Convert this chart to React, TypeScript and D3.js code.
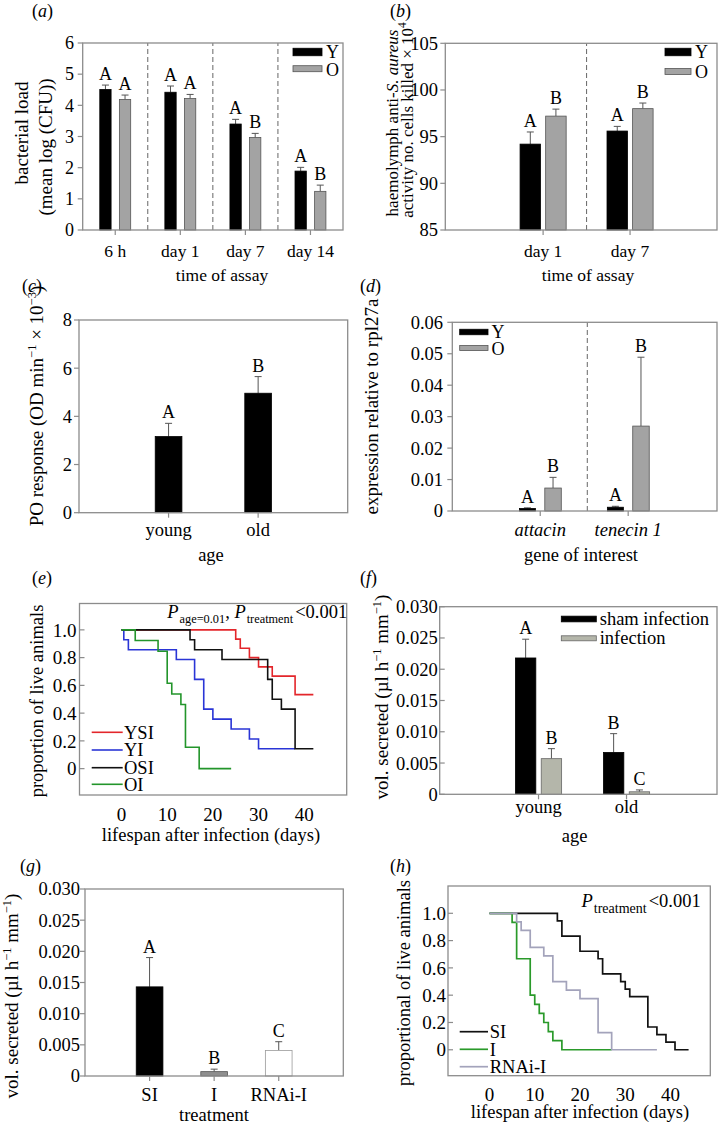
import React from "react";
import * as d3 from "d3";

const FONT = "'Liberation Serif', 'Times New Roman', Times, serif";
const FRAME = "#8c8c8c";
const ERR = "#555";
const OLD_GREY = "#a3a3a3";

// ---------- (a) bacterial load
const aCategories = ["6 h", "day 1", "day 7", "day 14"];
const aYoung = [4.51, 4.42, 3.4, 1.89];
const aYoungErr = [0.14, 0.2, 0.15, 0.12];
const aOld = [4.19, 4.22, 2.97, 1.24];
const aOldErr = [0.14, 0.13, 0.13, 0.2];
const aYoungLetters = ["A", "A", "A", "A"];
const aOldLetters = ["A", "A", "B", "B"];
const aYTicks = [0, 1, 2, 3, 4, 5, 6];

// ---------- (b) haemolymph activity
const bCategories = ["day 1", "day 7"];
const bYoung = [94.2, 95.6];
const bYoungErr = [1.3, 0.5];
const bOld = [97.2, 98.0];
const bOldErr = [0.75, 0.6];
const bYoungLetters = ["A", "A"];
const bOldLetters = ["B", "B"];
const bYTicks = [85, 90, 95, 100, 105];

// ---------- (c) PO response
const cCategories = ["young", "old"];
const cValues = [3.16, 4.96];
const cErr = [0.55, 0.69];
const cLetters = ["A", "B"];
const cYTicks = [0, 2, 4, 6, 8];

// ---------- (d) expression
const dCategories = ["attacin", "tenecin 1"];
const dYoung = [0.0008, 0.0012];
const dYoungErr = [0.0002, 0.0003];
const dOld = [0.0073, 0.027];
const dOldErr = [0.0034, 0.0219];
const dYoungLetters = ["A", "A"];
const dOldLetters = ["B", "B"];
const dYTicks = [0, 0.01, 0.02, 0.03, 0.04, 0.05, 0.06];

// ---------- (e) survival by age
const eYsiDays = [0, 25, 26, 28, 30, 33, 38, 42];
const eYsiSurv = [1, 0.933, 0.867, 0.8, 0.733, 0.667, 0.533, 0.533];
const eYiDays = [0, 0.5, 1.5, 12, 16, 18, 20, 24, 28, 30, 38];
const eYiSurv = [1, 0.929, 0.857, 0.786, 0.643, 0.429, 0.357, 0.286, 0.214, 0.143, 0.143];
const eOsiDays = [0, 15, 16, 22, 32, 33, 35, 38, 42];
const eOsiSurv = [1, 0.929, 0.857, 0.786, 0.643, 0.5, 0.429, 0.143, 0.143];
const eOiDays = [0, 3, 8, 10, 11, 13, 14, 17, 24];
const eOiSurv = [1, 0.923, 0.846, 0.615, 0.538, 0.462, 0.154, 0, 0];
const eLabels = ["YSI", "YI", "OSI", "OI"];
const eColors = ["#e3262b", "#2a35d6", "#111111", "#23952b"];
const survTicks = [0, 0.2, 0.4, 0.6, 0.8, 1.0];
const dayTicks = [0, 10, 20, 30, 40];

// ---------- (f) vol secreted by age
const fCategories = ["young", "old"];
const fSham = [0.0218, 0.0067];
const fShamErr = [0.003, 0.003];
const fInf = [0.0057, 0.0004];
const fInfErr = [0.0016, 0.0003];
const fShamLetters = ["A", "B"];
const fInfLetters = ["B", "C"];
const volTicks = [0, 0.005, 0.01, 0.015, 0.02, 0.025, 0.03];

// ---------- (g) vol secreted by treatment
const gCategories = ["SI", "I", "RNAi-I"];
const gValues = [0.0143, 0.0007, 0.0041];
const gErr = [0.0047, 0.0004, 0.0014];
const gLetters = ["A", "B", "C"];

// ---------- (h) survival by treatment
const hSiDays = [0, 15, 16, 20, 24, 25, 29, 30, 31, 35, 37, 39, 41, 44];
const hSiSurv = [1, 0.944, 0.833, 0.722, 0.667, 0.556, 0.5, 0.444, 0.389, 0.167, 0.111, 0.056, 0, 0];
const hIDays = [0, 5, 6, 9, 10, 11, 12, 13, 14, 16, 27];
const hISurv = [1, 0.933, 0.667, 0.4, 0.333, 0.267, 0.2, 0.133, 0.067, 0, 0];
const hRnaiDays = [0, 6, 7, 9, 12, 14, 17, 20, 24, 27, 37];
const hRnaiSurv = [1, 0.9375, 0.875, 0.75, 0.6875, 0.5, 0.4375, 0.375, 0.125, 0, 0];
const hLabels = ["SI", "I", "RNAi-I"];
const hColors = ["#111111", "#2a9a2a", "#a3a3bb"];

type Lin = d3.ScaleLinear<number, number>;

const fmtInt = d3.format("d");
const fmt2 = (t: number) => (t === 0 ? "0" : d3.format(".2f")(t));
const fmt3 = (t: number) => (t === 0 ? "0" : d3.format(".3f")(t));
const fmt1 = (t: number) => (t === 0 ? "0" : d3.format(".1f")(t));

function Frame({ x, y }: { x: Lin; y: Lin }) {
  const [x0, x1] = x.range();
  const [y0, y1] = y.range();
  return (
    <rect x={x0} y={y1} width={x1 - x0} height={y0 - y1} fill="none" stroke={FRAME} strokeWidth={1.3} />
  );
}

function YAxis({ x, y, ticks, fmt, size, inward, gap }: any) {
  const ax = x.range()[0];
  const dir = inward ? 1 : -1;
  return (
    <g>
      {ticks.map((t: number, i: number) => (
        <g key={i}>
          <line x1={ax} x2={ax + dir * 5} y1={y(t)} y2={y(t)} stroke={FRAME} strokeWidth={1.2} />
          <text x={ax - gap} y={y(t)} dy="0.35em" textAnchor="end" fontSize={size}>
            {fmt(t)}
          </text>
        </g>
      ))}
    </g>
  );
}

function XCats({ x, y, positions, labels, base, size, italic }: any) {
  const by = y.range()[0];
  return (
    <g>
      {positions.map((p: number, i: number) => (
        <g key={i}>
          <line x1={x(p)} x2={x(p)} y1={by} y2={by + 5} stroke={FRAME} strokeWidth={1.2} />
          <text x={x(p)} y={base} textAnchor="middle" fontSize={size} fontStyle={italic ? "italic" : "normal"}>
            {labels[i]}
          </text>
        </g>
      ))}
    </g>
  );
}

function BarMark({ cx, w, y, v, err, fill, stroke, letter, base, lsize }: any) {
  const y0 = y(base);
  const yt = y(v);
  const ye = y(v + err);
  return (
    <g>
      <line x1={cx} x2={cx} y1={yt} y2={ye} stroke={ERR} strokeWidth={1} />
      <line x1={cx - 3.5} x2={cx + 3.5} y1={ye} y2={ye} stroke={ERR} strokeWidth={1} />
      <rect x={cx - w / 2} y={yt} width={w} height={Math.max(0, y0 - yt)} fill={fill} stroke={stroke} strokeWidth={0.8} />
      {letter ? (
        <text x={cx} y={ye - 5} textAnchor="middle" fontSize={lsize || 18}>
          {letter}
        </text>
      ) : null}
    </g>
  );
}

function Swatch({ x, y, w, h, fill, stroke, label, tx, ty, size }: any) {
  return (
    <g>
      <rect x={x} y={y - h / 2} width={w} height={h} fill={fill} stroke={stroke} strokeWidth={0.8} />
      <text x={tx} y={ty} fontSize={size}>
        {label}
      </text>
    </g>
  );
}

function PanelLabel({ x, y, letter }: any) {
  return (
    <text x={x} y={y} fontSize={18}>
      (<tspan fontStyle="italic">{letter}</tspan>)
    </text>
  );
}

function VTitle({ x, y, size, children }: any) {
  return (
    <text transform={`translate(${x},${y}) rotate(-90)`} textAnchor="middle" fontSize={size}>
      {children}
    </text>
  );
}

function Dashed({ x, y, at }: any) {
  const [y0, y1] = y.range();
  return <line x1={x(at)} x2={x(at)} y1={y0} y2={y1} stroke="#666" strokeWidth={1} strokeDasharray="5,3" />;
}

const stepLine = (x: Lin, y: Lin, days: number[], surv: number[]) =>
  d3
    .line<number>()
    .x((_, i) => x(days[i]))
    .y((_, i) => y(surv[i]))
    .curve(d3.curveStepAfter)(days) || "";

export default function App() {
  // ----- scales
  const aX = d3.scaleLinear().domain([0, aCategories.length]).range([82.7, 343]);
  const aY = d3.scaleLinear().domain([0, 6]).range([230, 43]);
  const bX = d3.scaleLinear().domain([-1.125, 2.0]).range([445.3, 717]);
  const bY = d3.scaleLinear().domain([85, 105]).range([230, 43.3]);
  const cX = d3.scaleLinear().domain([0, 3]).range([79, 347.7]);
  const cY = d3.scaleLinear().domain([0, 8]).range([512.7, 320]);
  const dX = d3.scaleLinear().domain([-1, 2.01]).range([452.3, 717]);
  const dY = d3.scaleLinear().domain([0, 0.06]).range([511, 322.3]);
  const eX = d3.scaleLinear().domain([-9.2, 49.3]).range([79.5, 346.7]);
  const eY = d3.scaleLinear().domain([-0.19, 1.19]).range([795, 603.5]);
  const fX = d3.scaleLinear().domain([-1.123, 2.028]).range([439.7, 717]);
  const fY = d3.scaleLinear().domain([0, 0.03]).range([794.3, 606.7]);
  const gX = d3.scaleLinear().domain([0, 4]).range([85, 343.3]);
  const gY = d3.scaleLinear().domain([0, 0.03]).range([1076, 889]);
  const hX = d3.scaleLinear().domain([-9.17, 48.8]).range([448, 710.3]);
  const hY = d3.scaleLinear().domain([-0.19, 1.2]).range([1075.7, 886]);

  const eSeries = [
    [eYsiDays, eYsiSurv],
    [eYiDays, eYiSurv],
    [eOsiDays, eOsiSurv],
    [eOiDays, eOiSurv],
  ];
  const hSeries = [
    [hSiDays, hSiSurv],
    [hIDays, hISurv],
    [hRnaiDays, hRnaiSurv],
  ];
  const hOrder = [0, 1, 2];

  return (
    <svg
      width={718}
      height={1124}
      style={{ position: "absolute", left: 0, top: 0, display: "block" }}
      fontFamily={FONT}
      fill="#000"
    >
      <rect x={0} y={0} width={718} height={1124} fill="#fff" />

      {/* ================= (a) ================= */}
      <PanelLabel x={32} y={16.5} letter="a" />
      {[1, 2, 3].map((s) => (
        <Dashed key={s} x={aX} y={aY} at={s} />
      ))}
      {aCategories.map((c, i) => (
        <g key={c}>
          <BarMark cx={aX(i + 0.5) - 9.8} w={11.3} y={aY} base={0} v={aYoung[i]} err={aYoungErr[i]} fill="#000" stroke="#000" letter={aYoungLetters[i]} />
          <BarMark cx={aX(i + 0.5) + 9.8} w={11.3} y={aY} base={0} v={aOld[i]} err={aOldErr[i]} fill={OLD_GREY} stroke="#555" letter={aOldLetters[i]} />
        </g>
      ))}
      <Frame x={aX} y={aY} />
      <YAxis x={aX} y={aY} ticks={aYTicks} fmt={fmtInt} size={18} gap={8.7} />
      <XCats x={aX} y={aY} positions={aCategories.map((_, i) => i + 0.5)} labels={aCategories} base={256.5} size={17.5} />
      <text x={222} y={281} textAnchor="middle" fontSize={17.5}>time of assay</text>
      <VTitle x={28.3} y={133} size={19}>bacterial load</VTitle>
      <VTitle x={51.5} y={147} size={19}>(mean log (CFU))</VTitle>
      <Swatch x={293} y={52} w={29} h={7.5} fill="#000" stroke="#000" label="Y" tx={326} ty={58.3} size={18} />
      <Swatch x={293} y={68.7} w={29} h={6} fill={OLD_GREY} stroke="#555" label="O" tx={326} ty={76} size={18} />

      {/* ================= (b) ================= */}
      <PanelLabel x={390} y={16.5} letter="b" />
      <Dashed x={bX} y={bY} at={0.5} />
      {bCategories.map((c, i) => (
        <g key={c}>
          <BarMark cx={bX(i) - 12.8} w={20.5} y={bY} base={85} v={bYoung[i]} err={bYoungErr[i]} fill="#000" stroke="#000" letter={bYoungLetters[i]} />
          <BarMark cx={bX(i) + 12.8} w={20.5} y={bY} base={85} v={bOld[i]} err={bOldErr[i]} fill={OLD_GREY} stroke="#555" letter={bOldLetters[i]} />
        </g>
      ))}
      <Frame x={bX} y={bY} />
      <YAxis x={bX} y={bY} ticks={bYTicks} fmt={fmtInt} size={18.5} gap={7.3} />
      <XCats x={bX} y={bY} positions={[0, 1]} labels={bCategories} base={256.5} size={17.5} />
      <text x={588} y={281} textAnchor="middle" fontSize={17.5}>time of assay</text>
      <VTitle x={398} y={123} size={17}>
        haemolymph anti-<tspan fontStyle="italic">S. aureus</tspan>
      </VTitle>
      <VTitle x={413} y={120} size={17}>
        activity no. cells killed × 10<tspan fontSize={11.5} dy={-7}>4</tspan>
      </VTitle>
      <Swatch x={665} y={52} w={26} h={7.5} fill="#000" stroke="#000" label="Y" tx={695} ty={58.3} size={18} />
      <Swatch x={665} y={71.5} w={26} h={6} fill={OLD_GREY} stroke="#555" label="O" tx={695} ty={77.5} size={18} />

      {/* ================= (c) ================= */}
      <PanelLabel x={22} y={291.5} letter="c" />
      {cCategories.map((c, i) => (
        <BarMark key={c} cx={cX(i + 1)} w={26.7} y={cY} base={0} v={cValues[i]} err={cErr[i]} fill="#000" stroke="#000" letter={cLetters[i]} />
      ))}
      <Frame x={cX} y={cY} />
      <YAxis x={cX} y={cY} ticks={cYTicks} fmt={fmtInt} size={18.5} gap={7} />
      <XCats x={cX} y={cY} positions={[1, 2]} labels={cCategories} base={536} size={18.5} />
      <text x={211} y={561} textAnchor="middle" fontSize={18.5}>age</text>
      <VTitle x={43} y={406} size={19}>
        PO response (OD min<tspan fontSize={12.5} dy={-7}>−1</tspan>
        <tspan dy={7}> × 10</tspan>
        <tspan fontSize={12.5} dy={-7}>−3</tspan>
        <tspan dy={7}>)</tspan>
      </VTitle>

      {/* ================= (d) ================= */}
      <PanelLabel x={360} y={291.5} letter="d" />
      <Dashed x={dX} y={dY} at={0.535} />
      {dCategories.map((c, i) => (
        <g key={c}>
          <BarMark cx={dX(i) - 12.8} w={16} y={dY} base={0} v={dYoung[i]} err={dYoungErr[i]} fill="#000" stroke="#000" letter={dYoungLetters[i]} />
          <BarMark cx={dX(i) + 12.8} w={16.5} y={dY} base={0} v={dOld[i]} err={dOldErr[i]} fill={OLD_GREY} stroke="#555" letter={dOldLetters[i]} />
        </g>
      ))}
      <Frame x={dX} y={dY} />
      <YAxis x={dX} y={dY} ticks={dYTicks} fmt={fmt2} size={18.5} gap={9.3} />
      <XCats x={dX} y={dY} positions={[0, 1]} labels={dCategories} base={536} size={18.5} italic />
      <text x={581} y={561} textAnchor="middle" fontSize={18.5}>gene of interest</text>
      <VTitle x={377.5} y={406.5} size={19}>expression relative to rpl27a</VTitle>
      <Swatch x={459.7} y={332} w={28.3} h={5.5} fill="#000" stroke="#000" label="Y" tx={491.5} ty={337.5} size={18} />
      <Swatch x={459.7} y={348} w={28.3} h={5} fill={OLD_GREY} stroke="#555" label="O" tx={491.5} ty={355} size={18} />

      {/* ================= (e) ================= */}
      <PanelLabel x={32} y={583.5} letter="e" />
      <Frame x={eX} y={eY} />
      {eSeries.map(([days, surv], k) => (
        <path key={k} d={stepLine(eX, eY, days, surv)} fill="none" stroke={eColors[k]} strokeWidth={1.6} />
      ))}
      <YAxis x={eX} y={eY} ticks={survTicks} fmt={fmt1} size={19} gap={3} inward />
      {dayTicks.map((t) => (
        <text key={t} x={eX(t)} y={821} textAnchor="middle" fontSize={19}>
          {t}
        </text>
      ))}
      <text x={211} y={841} textAnchor="middle" fontSize={18.5}>lifespan after infection (days)</text>
      <VTitle x={43} y={701} size={18.5}>proportion of live animals</VTitle>
      <text x={167.3} y={618.3} fontSize={18.5}>
        <tspan fontStyle="italic">P</tspan>
        <tspan fontSize={12.3} dy={5} dx={1}>age=0.01</tspan>
        <tspan dy={-5}>, </tspan>
        <tspan fontStyle="italic">P</tspan>
        <tspan fontSize={12.3} dy={5} dx={1}>treatment</tspan>
        <tspan dy={-5} dx={2}>&lt;0.001</tspan>
      </text>
      {eLabels.map((l, k) => {
        const ly = [732.3, 750, 767.7, 784.3][k];
        return (
          <g key={l}>
            <line x1={91.7} x2={122.7} y1={ly} y2={ly} stroke={eColors[k]} strokeWidth={1.6} />
            <text x={124} y={ly + 6.3} fontSize={18.5}>{l}</text>
          </g>
        );
      })}

      {/* ================= (f) ================= */}
      <PanelLabel x={360} y={583.5} letter="f" />
      {fCategories.map((c, i) => (
        <g key={c}>
          <BarMark cx={fX(i) - 12.9} w={20.4} y={fY} base={0} v={fSham[i]} err={fShamErr[i]} fill="#000" stroke="#000" letter={fShamLetters[i]} />
          <BarMark cx={fX(i) + 12.9} w={20.4} y={fY} base={0} v={fInf[i]} err={fInfErr[i]} fill="#b4b6aa" stroke="#666" letter={fInfLetters[i]} />
        </g>
      ))}
      <Frame x={fX} y={fY} />
      <YAxis x={fX} y={fY} ticks={volTicks} fmt={fmt3} size={18.5} gap={2} inward />
      <XCats x={fX} y={fY} positions={[0, 1]} labels={fCategories} base={813} size={18.5} />
      <text x={574.7} y={842} textAnchor="middle" fontSize={18.5}>age</text>
      <VTitle x={387.5} y={697} size={19}>
        vol. secreted (µl h<tspan fontSize={12.5} dy={-7}>−1</tspan>
        <tspan dy={7}> mm</tspan>
        <tspan fontSize={12.5} dy={-7}>−1</tspan>
        <tspan dy={7}>)</tspan>
      </VTitle>
      <Swatch x={561.3} y={619} w={35} h={5.7} fill="#000" stroke="#000" label="sham infection" tx={599.7} ty={624.5} size={18.5} />
      <Swatch x={561.3} y={638.3} w={35} h={5} fill="#b4b6aa" stroke="#666" label="infection" tx={599.7} ty={644} size={18.5} />

      {/* ================= (g) ================= */}
      <PanelLabel x={20} y={871.5} letter="g" />
      {gCategories.map((c, i) => (
        <BarMark
          key={c}
          cx={gX(i + 1)}
          w={26.7}
          y={gY}
          base={0}
          v={gValues[i]}
          err={gErr[i]}
          fill={["#000", "#8f8f8f", "#fff"][i]}
          stroke={["#000", "#555", "#9a9a9a"][i]}
          letter={gLetters[i]}
        />
      ))}
      <Frame x={gX} y={gY} />
      <YAxis x={gX} y={gY} ticks={volTicks} fmt={fmt3} size={18.5} gap={5} />
      <XCats x={gX} y={gY} positions={[1, 2, 3]} labels={gCategories} base={1101} size={18.5} />
      <text x={214} y={1120.5} textAnchor="middle" fontSize={18.5}>treatment</text>
      <VTitle x={18} y={996} size={19}>
        vol. secreted (µl h<tspan fontSize={12.5} dy={-7}>−1</tspan>
        <tspan dy={7}> mm</tspan>
        <tspan fontSize={12.5} dy={-7}>−1</tspan>
        <tspan dy={7}>)</tspan>
      </VTitle>

      {/* ================= (h) ================= */}
      <PanelLabel x={390} y={871.5} letter="h" />
      <Frame x={hX} y={hY} />
      {hOrder.map((k) => (
        <path key={k} d={stepLine(hX, hY, hSeries[k][0], hSeries[k][1])} fill="none" stroke={hColors[k]} strokeWidth={1.7} />
      ))}
      <YAxis x={hX} y={hY} ticks={survTicks} fmt={fmt1} size={19} gap={2} inward />
      {dayTicks.map((t) => (
        <text key={t} x={hX(t)} y={1101} textAnchor="middle" fontSize={19}>
          {t}
        </text>
      ))}
      <text x={580} y={1118} textAnchor="middle" fontSize={18.5}>lifespan after infection (days)</text>
      <VTitle x={409.5} y={983} size={18.5}>proportional of live animals</VTitle>
      <text x={581.5} y={906.7} fontSize={18.5}>
        <tspan fontStyle="italic">P</tspan>
        <tspan fontSize={14} dy={6} dx={1}>treatment</tspan>
        <tspan dy={-6} dx={2}>&lt;0.001</tspan>
      </text>
      {hLabels.map((l, k) => {
        const ly = [1031.7, 1049.3, 1066.7][k];
        return (
          <g key={l}>
            <line x1={459.7} x2={488} y1={ly} y2={ly} stroke={hColors[k]} strokeWidth={1.7} />
            <text x={489.7} y={ly + 6.3} fontSize={18.5}>{l}</text>
          </g>
        );
      })}
    </svg>
  );
}
